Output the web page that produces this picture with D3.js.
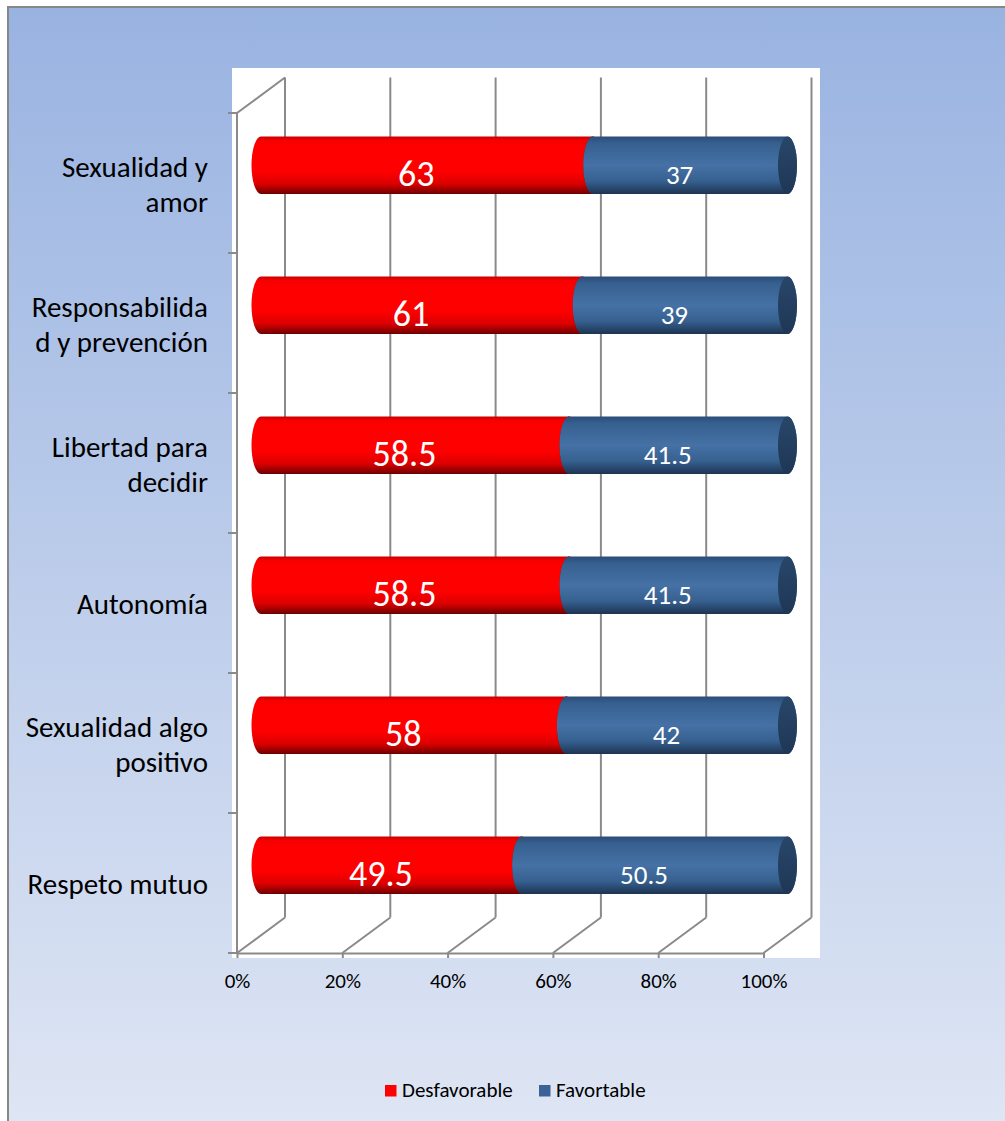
<!DOCTYPE html>
<html>
<head>
<meta charset="utf-8">
<script src="https://cdn.jsdelivr.net/npm/d3@7"></script>
<style>
  html, body { margin: 0; padding: 0; background: #ffffff; }
  svg { display: block; }
  text { font-family: Carlito, Calibri, Lato, "Open Sans", sans-serif; }
</style>
</head>
<body>
<svg id="chart" width="1005" height="1121"></svg>
<script>
// Categories, top to bottom ("\n" marks where the label wraps)
const categories = [
  "Sexualidad y\namor",
  "Responsabilida\nd y prevención",
  "Libertad para\ndecidir",
  "Autonomía",
  "Sexualidad algo\npositivo",
  "Respeto mutuo"
];
const desfavorable = [63, 61, 58.5, 58.5, 58, 49.5];
const favorable    = [37, 39, 41.5, 41.5, 42, 50.5];
const seriesNames  = ["Desfavorable", "Favortable"];
const tickValues   = [0, 20, 40, 60, 80, 100];
const tickLabels   = ["0%", "20%", "40%", "60%", "80%", "100%"];

const svg = d3.select("#chart");
const defs = svg.append("defs");

// Chart area background
const bg = defs.append("linearGradient").attr("id", "bgGrad")
  .attr("x1", 0).attr("y1", 0).attr("x2", 0).attr("y2", 1);
bg.append("stop").attr("offset", "0%").attr("stop-color", "#99b3e1");
bg.append("stop").attr("offset", "100%").attr("stop-color", "#dfe6f4");
svg.append("rect").attr("x", 8).attr("y", 7).attr("width", 1010).attr("height", 1130)
  .attr("fill", "url(#bgGrad)").attr("stroke", "#878787").attr("stroke-width", 2);

// Plot area
svg.append("rect").attr("x", 232).attr("y", 68).attr("width", 588).attr("height", 890)
  .attr("fill", "#ffffff");

// 3D geometry: front plane scales plus depth offset
const depthX = 48, depthY = -35.5;
const x = d3.scaleLinear().domain([0, 100]).range([237, 763.5]);
const y = d3.scaleBand().domain(categories).range([113, 953]);
const barThickness = y.bandwidth() * 0.41;
const capRx = 9.5;

const grid = svg.append("g").attr("stroke", "#8a8a8a").attr("stroke-width", 2).attr("fill", "none");
// Back wall verticals
grid.selectAll("line.v").data(tickValues).join("line")
  .attr("x1", d => x(d) + depthX).attr("x2", d => x(d) + depthX)
  .attr("y1", y.range()[0] + depthY).attr("y2", y.range()[1] + depthY);
// Floor diagonals
grid.selectAll("line.d").data(tickValues).join("line")
  .attr("x1", d => x(d)).attr("y1", y.range()[1])
  .attr("x2", d => x(d) + depthX).attr("y2", y.range()[1] + depthY);
// Left wall: front edge and top diagonal
grid.append("line").attr("x1", x(0)).attr("x2", x(0))
  .attr("y1", y.range()[0]).attr("y2", y.range()[1]);
grid.append("line").attr("x1", x(0)).attr("y1", y.range()[0])
  .attr("x2", x(0) + depthX).attr("y2", y.range()[0] + depthY);
// Category boundary ticks
const bounds = d3.range(categories.length + 1).map(i => y.range()[0] + i * y.step());
grid.selectAll("line.t").data(bounds).join("line")
  .attr("x1", x(0) - 9).attr("x2", x(0)).attr("y1", d => d).attr("y2", d => d);

// Value axis along the front floor edge
const xAxis = d3.axisBottom(x).tickValues(tickValues)
  .tickFormat((d, i) => tickLabels[i]).tickSizeInner(5).tickSizeOuter(0).tickPadding(15);
const ax = svg.append("g").attr("transform", `translate(0,${y.range()[1]})`).call(xAxis);
ax.attr("font-size", null).attr("font-family", null);
ax.select(".domain").attr("stroke", "#8a8a8a").attr("stroke-width", 2);
ax.selectAll(".tick line").attr("stroke", "#8a8a8a").attr("stroke-width", 2);
ax.selectAll(".tick text").attr("fill", "#000").attr("font-size", 21);

// Category labels
const catG = svg.append("g");
categories.forEach(c => {
  const lines = c.split("\n");
  const cy = y(c) + y.bandwidth() / 2;
  const t = catG.append("text").attr("text-anchor", "end").attr("font-size", 29).attr("fill", "#000");
  lines.forEach((ln, i) => {
    t.append("tspan").attr("x", 208)
      .attr("y", cy + 11 + (i - (lines.length - 1) / 2) * 35)
      .text(ln);
  });
});

// Cylinder gradients
function vGrad(id, stops) {
  const g = defs.append("linearGradient").attr("id", id)
    .attr("x1", 0).attr("y1", 0).attr("x2", 0).attr("y2", 1);
  stops.forEach(s => g.append("stop").attr("offset", s[0]).attr("stop-color", s[1]));
}
vGrad("redBody", [["0%", "#c80000"], ["7%", "#f80000"], ["20%", "#ff0000"], ["60%", "#ff0000"], ["82%", "#dc0000"], ["100%", "#6e0000"]]);
vGrad("blueBody", [["0%", "#2b4c78"], ["12%", "#36608f"], ["50%", "#4571a6"], ["78%", "#36608f"], ["100%", "#1d3352"]]);
vGrad("redEnd", [["0%", "#b00000"], ["100%", "#700000"]]);
vGrad("blueEnd", [["0%", "#284669"], ["100%", "#1f3756"]]);

const series = [
  { name: seriesNames[0], values: desfavorable, body: "url(#redBody)", end: "url(#redEnd)", size: 36, dy: 21 },
  { name: seriesNames[1], values: favorable,    body: "url(#blueBody)", end: "url(#blueEnd)", size: 27, dy: 19 }
];

const barsG = svg.append("g");
categories.forEach((c, ci) => {
  const cy = y(c) + y.bandwidth() / 2 + depthY / 2;
  const r = barThickness / 2;
  let acc = 0;
  series.forEach(s => {
    const v = s.values[ci];
    const a = x(acc) + depthX / 2, b = x(acc + v) + depthX / 2;
    acc += v;
    const p = `M${a},${cy - r} L${b},${cy - r} A${capRx},${r} 0 0 1 ${b},${cy + r} L${a},${cy + r} A${capRx},${r} 0 0 1 ${a},${cy - r} Z`;
    barsG.append("path").attr("d", p).attr("fill", s.body);
    barsG.append("ellipse").attr("cx", b).attr("cy", cy).attr("rx", capRx).attr("ry", r).attr("fill", s.end);
    s._mid = (a + b) / 2;
    s._cy = cy;
  });
  series.forEach(s => {
    barsG.append("text").attr("x", s._mid - 10.5).attr("y", s._cy + s.dy)
      .attr("text-anchor", "middle").attr("fill", "#fff").attr("font-size", s.size)
      .text(s.values[ci]);
  });
});

// Legend
const leg = svg.append("g");
const legX = [385, 539];
series.forEach((s, i) => {
  leg.append("rect").attr("x", legX[i]).attr("y", 1085).attr("width", 11.5).attr("height", 11.5)
    .attr("fill", i === 0 ? "#ff0000" : "#3a6296");
  leg.append("text").attr("x", legX[i] + 17).attr("y", 1097).attr("font-size", 21).attr("fill", "#000")
    .text(s.name);
});
</script>
</body>
</html>
